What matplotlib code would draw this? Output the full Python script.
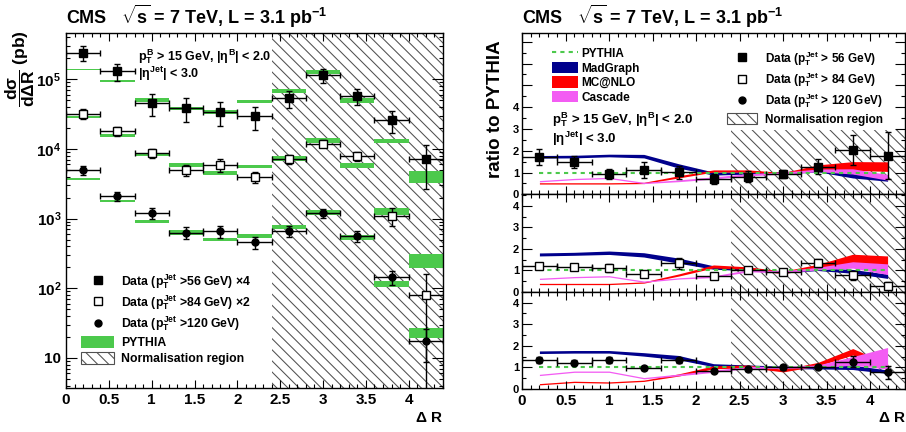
''' CMS b-jet angular correlation: dsigma/dDeltaR and ratio to PYTHIA '''
import matplotlib
matplotlib.use('Agg')
import matplotlib.pyplot as plt
from matplotlib.patches import Rectangle, Patch
from matplotlib.lines import Line2D
from matplotlib.ticker import MultipleLocator, FixedLocator, FixedFormatter, LogLocator, NullFormatter

plt.rcParams['font.family'] = ['Liberation Sans', 'DejaVu Sans']
plt.rcParams['font.weight'] = 'bold'
plt.rcParams['mathtext.fontset'] = 'custom'
plt.rcParams['mathtext.rm'] = 'Liberation Sans:bold'
plt.rcParams['mathtext.it'] = 'Liberation Sans:bold'
plt.rcParams['mathtext.bf'] = 'Liberation Sans:bold'
plt.rcParams['mathtext.sf'] = 'Liberation Sans:bold'
plt.rcParams['hatch.linewidth'] = 0.75

# bin centres in Delta R (bin width 0.4)
dr = [0.2, 0.6, 1.0, 1.4, 1.8, 2.2, 2.6, 3.0, 3.4, 3.8, 4.2]

# left panel: cross sections (pb), with scale factors already applied
data56 = [2.4e5, 1.3e5, 4.6e4, 3.9e4, 3.4e4, 2.95e4, 5.3e4, 1.14e5, 5.7e4, 2.6e4, 7.1e3]
err56 = [0.25, 0.27, 0.35, 0.38, 0.38, 0.36, 0.28, 0.22, 0.25, 0.35, 0.62]
data84 = [3.2e4, 1.78e4, 8.7e3, 5.0e3, 5.9e3, 3.9e3, 7.2e3, 1.19e4, 7.8e3, 1.1e3, 81]
err84 = [0.15, 0.15, 0.15, 0.18, 0.2, 0.18, 0.15, 0.12, 0.15, 0.3, 0.98]
data120 = [4.9e3, 2.1e3, 1.2e3, 630, 660, 460, 660, 1.2e3, 560, 145, 17.5]
err120 = [0.15, 0.15, 0.18, 0.2, 0.2, 0.2, 0.18, 0.15, 0.18, 0.22, 0.5]

pyth56 = [1.38e5, 9.4e4, 5.0e4, 3.8e4, 3.4e4, 4.8e4, 6.8e4, 1.27e5, 5.0e4, 1.3e4, 4.0e3]
pyth56_w = [0.03, 0.03, 0.06, 0.06, 0.06, 0.06, 0.08, 0.08, 0.08, 0.08, 0.2]
pyth84 = [2.9e4, 1.56e4, 8.3e3, 5.9e3, 4.5e3, 5.6e3, 7.2e3, 1.32e4, 5.8e3, 1.27e3, 250]
pyth84_w = [0.03, 0.04, 0.05, 0.06, 0.06, 0.06, 0.08, 0.08, 0.08, 0.12, 0.23]
pyth120 = [3.7e3, 1.8e3, 910, 640, 500, 560, 760, 1.23e3, 530, 117, 23]
pyth120_w = [0.03, 0.04, 0.04, 0.08, 0.06, 0.06, 0.08, 0.08, 0.08, 0.1, 0.15]

# right panels: ratio to PYTHIA, one list per jet pT threshold
ratio56 = [1.73, 1.47, 0.93, 1.12, 1.01, 0.69, 0.81, 0.93, 1.27, 2.04, 1.78]
rerr56 = [0.37, 0.27, 0.25, 0.36, 0.3, 0.23, 0.25, 0.19, 0.34, 0.7, 1.1]
ratio84 = [1.2, 1.14, 1.1, 0.84, 1.32, 0.72, 1.01, 0.9, 1.35, 0.76, 0.26]
rerr84 = [0.15, 0.12, 0.2, 0.12, 0.25, 0.1, 0.1, 0.08, 0.2, 0.2, 0.2]
ratio120 = [1.34, 1.22, 1.34, 0.96, 1.33, 0.83, 0.91, 1.0, 1.03, 1.27, 0.77]
rerr120 = [0.12, 0.1, 0.12, 0.1, 0.12, 0.05, 0.06, 0.1, 0.07, 0.25, 0.3]

pythia_ratio = [1.0, 1.0, 1.0, 1.0, 1.0, 1.0, 1.0, 1.0, 1.0, 1.0, 1.0]

mg56 = [1.72, 1.73, 1.78, 1.75, 1.30, 0.95, 0.98, 0.98, 1.10, 0.85, 0.68]
mg56_w = [0.06, 0.06, 0.06, 0.08, 0.10, 0.07, 0.05, 0.05, 0.07, 0.1, 0.08]
nlo56 = [0.50, 0.50, 0.50, 0.52, 0.80, 1.07, 1.07, 0.95, 1.25, 1.30, 1.27]
nlo56_w = [0.03, 0.03, 0.03, 0.03, 0.05, 0.05, 0.05, 0.05, 0.1, 0.2, 0.22]
cas56 = [0.60, 0.70, 0.75, 0.52, 0.62, 0.75, 0.90, 0.97, 1.10, 1.05, 0.78]
cas56_w = [0.03, 0.03, 0.03, 0.03, 0.04, 0.05, 0.05, 0.05, 0.06, 0.12, 0.13]

mg84 = [1.74, 1.77, 1.82, 1.72, 1.45, 1.13, 1.05, 0.92, 1.05, 0.95, 0.72]
mg84_w = [0.07, 0.07, 0.08, 0.1, 0.12, 0.08, 0.07, 0.05, 0.06, 0.09, 0.1]
nlo84 = [0.36, 0.36, 0.36, 0.43, 0.78, 1.18, 1.1, 0.9, 1.2, 1.5, 1.42]
nlo84_w = [0.03, 0.03, 0.03, 0.03, 0.05, 0.07, 0.06, 0.06, 0.08, 0.25, 0.25]
cas84 = [0.6, 0.68, 0.72, 0.47, 0.62, 0.7, 0.98, 0.93, 1.08, 1.25, 1.05]
cas84_w = [0.03, 0.03, 0.03, 0.03, 0.03, 0.04, 0.05, 0.05, 0.06, 0.15, 0.25]

mg120 = [1.7, 1.72, 1.72, 1.6, 1.45, 1.1, 1.05, 1.0, 0.98, 1.0, 0.8]
mg120_w = [0.06, 0.06, 0.06, 0.08, 0.1, 0.07, 0.06, 0.06, 0.05, 0.1, 0.08]
nlo120 = [0.22, 0.33, 0.3, 0.38, 0.65, 1.0, 1.05, 0.85, 1.15, 1.72, 1.03]
nlo120_w = [0.03, 0.03, 0.03, 0.03, 0.05, 0.07, 0.06, 0.06, 0.08, 0.15, 0.15]
cas120 = [0.65, 0.8, 0.8, 0.5, 0.65, 0.82, 1.0, 1.0, 1.05, 1.3, 1.42]
cas120_w = [0.03, 0.03, 0.03, 0.03, 0.04, 0.05, 0.05, 0.05, 0.06, 0.2, 0.5]

GREEN = '#4cc94c'
BLUE = '#00008c'
RED = '#ff0000'
MAGENTA = '#f35cf3'
HATCH_COL = '#505050'
HATCH = '\\\\\\'
TITLE = r'CMS   $\sqrt{s}$ = 7 TeV, L = 3.1 pb$^{-1}$'

W, H = 906, 432


def fig_box(x0, y0, x1, y1):
    ''' pixel box (top-left origin) -> figure fraction rect '''
    return [x0 / W, 1 - y1 / H, (x1 - x0) / W, (y1 - y0) / H]


def style_axis(ax, xlab=True, xsize=10.5):
    ax.set_xlim(0, 4.4)
    ax.xaxis.set_major_locator(MultipleLocator(0.5))
    ax.xaxis.set_minor_locator(MultipleLocator(0.1))
    ax.tick_params(which='both', direction='in', top=True, right=True, width=0.8)
    ax.tick_params(which='major', length=6)
    ax.tick_params(which='minor', length=3)
    if xlab:
        ax.set_xticks([0, 0.5, 1, 1.5, 2, 2.5, 3, 3.5, 4])
        ax.set_xticklabels(['0', '0.5', '1', '1.5', '2', '2.5', '3', '3.5', '4'],
                           fontsize=xsize, fontweight='bold')
    else:
        ax.set_xticklabels([])
    for s in ax.spines.values():
        s.set_linewidth(1.0)


def band(ax, c, w, color):
    lo = [v - e for v, e in zip(c, w)]
    hi = [v + e for v, e in zip(c, w)]
    ax.fill_between(dr, lo, hi, color=color, lw=0)


def main():
    fig = plt.figure(figsize=(W / 100, H / 100), dpi=100)

    # ---------------- left panel ----------------
    ax = fig.add_axes(fig_box(66, 33, 443, 388))
    ax.set_yscale('log')
    ax.set_ylim(3.7, 4.6e5)
    style_axis(ax, xsize=11)
    ax.add_patch(Rectangle((2.4, 3.7), 2.0, 4.6e5, fill=False, hatch=HATCH,
                           edgecolor=HATCH_COL, lw=0, zorder=0))
    for c, w in ((pyth56, pyth56_w), (pyth84, pyth84_w), (pyth120, pyth120_w)):
        lo = [v * (1 - e) for v, e in zip(c, w)]
        ht = [v * 2 * e for v, e in zip(c, w)]
        ax.bar(dr, ht, bottom=lo, width=0.4, color=GREEN, lw=0, zorder=2)
    for y, e, mk, mfc, ms in ((data56, err56, 's', 'k', 5.5),
                              (data84, err84, 's', 'white', 6.0),
                              (data120, err120, 'o', 'k', 5.0)):
        ye = [v * r for v, r in zip(y, e)]
        ax.errorbar(dr, y, xerr=0.2, yerr=[ye, ye], fmt=mk, ms=ms, mfc=mfc, mec='k',
                    ecolor='k', elinewidth=1, capsize=2.5, capthick=1, zorder=3)
    ax.yaxis.set_major_locator(FixedLocator([10, 100, 1e3, 1e4, 1e5]))
    ax.yaxis.set_major_formatter(FixedFormatter(
        ['10', r'$10^{2}$', r'$10^{3}$', r'$10^{4}$', r'$10^{5}$']))
    ax.yaxis.set_minor_locator(LogLocator(base=10, subs=range(2, 10)))
    ax.yaxis.set_minor_formatter(NullFormatter())
    ax.tick_params(axis='y', which='major', labelsize=11, length=8)
    for t in ax.get_yticklabels():
        t.set_fontweight('bold')

    fig.text(138 / W, 1 - 57 / H, r'$p_T^B$ > 15 GeV, $|\eta^B|$ < 2.0',
             fontsize=9, fontweight='bold', va='center')
    fig.text(138 / W, 1 - 74 / H, r'$|\eta^{Jet}|$ < 3.0',
             fontsize=9, fontweight='bold', va='center')

    handles = [Line2D([], [], marker='s', ls='none', color='k', ms=5.5),
               Line2D([], [], marker='s', ls='none', mfc='white', mec='k', ms=6),
               Line2D([], [], marker='o', ls='none', color='k', ms=5),
               Patch(facecolor=GREEN, lw=0),
               Patch(facecolor='white', edgecolor=HATCH_COL, hatch=HATCH, lw=0.8)]
    labels = [r'Data ($p_T^{Jet}$ >56 GeV) $\times$4', r'Data ($p_T^{Jet}$ >84 GeV) $\times$2',
              r'Data ($p_T^{Jet}$ >120 GeV)', 'PYTHIA', 'Normalisation region']
    ax.legend(handles, labels, loc='lower left', bbox_to_anchor=(0.04, 0.065),
              frameon=False, fontsize=8.8, handlelength=2.7, handleheight=1.2,
              handletextpad=0.6, labelspacing=0.2, borderpad=0, borderaxespad=0)

    fig.text(66 / W, 1 - 16 / H, TITLE, fontsize=13, fontweight='bold',
             va='center', ha='left')
    fig.text(20 / W, 1 - 69 / H, r'$\dfrac{d\sigma}{d\Delta R}$ (pb)', rotation=90,
             fontsize=12.5, fontweight='bold', va='center', ha='center')
    fig.text(443 / W, 1 - 418 / H, r'$\Delta$ R', fontsize=11, fontweight='bold',
             ha='right', va='center')

    # ---------------- right panels ----------------
    tops = [33, 194.3, 291.7]
    bots = [194.3, 291.7, 389]
    ymax = [7.4, 4.55, 4.5]
    panels = [(ratio56, rerr56, 's', 'k', 5.5, mg56, mg56_w, nlo56, nlo56_w, cas56, cas56_w),
              (ratio84, rerr84, 's', 'white', 6.0, mg84, mg84_w, nlo84, nlo84_w, cas84, cas84_w),
              (ratio120, rerr120, 'o', 'k', 5.0, mg120, mg120_w, nlo120, nlo120_w,
               cas120, cas120_w)]
    axes = []
    for i, p in enumerate(panels):
        (y, e, mk, mfc, ms, mg, mgw, nlo, nlow, cas, casw) = p
        rax = fig.add_axes(fig_box(522, tops[i], 905, bots[i]))
        axes.append(rax)
        rax.set_ylim(0, ymax[i])
        style_axis(rax, xlab=(i == 2), xsize=11)
        rax.yaxis.set_minor_locator(MultipleLocator(0.5))
        rax.set_yticks([0, 1, 2, 3, 4] if i else [0, 1, 2, 3, 4, 5, 6, 7])
        rax.set_yticklabels(['0', '1', '2', '3', '4'] + ([] if i else ['', '', '']),
                            fontsize=8, fontweight='bold')
        rax.tick_params(axis='y', which='major', length=7, pad=2)
        htop = 2.95 if i == 0 else ymax[i]
        rax.add_patch(Rectangle((2.4, 0), 2.0, htop, fill=False, hatch=HATCH,
                                edgecolor=HATCH_COL, lw=0, zorder=0))
        band(rax, mg, mgw, BLUE)
        band(rax, nlo, nlow, RED)
        band(rax, cas, casw, MAGENTA)
        rax.plot(dr, pythia_ratio, ls=(0, (2, 2)), color=GREEN, lw=1.5, zorder=2)
        rax.errorbar(dr, y, xerr=0.2, yerr=e, fmt=mk, ms=ms, mfc=mfc, mec='k',
                     ecolor='k', elinewidth=1, capsize=2.5, capthick=1, zorder=3)

    top = axes[0]
    h1 = [Line2D([], [], ls=(0, (2, 2)), color=GREEN, lw=1.5),
          Patch(facecolor=BLUE, lw=0), Patch(facecolor=RED, lw=0),
          Patch(facecolor=MAGENTA, lw=0)]
    leg1 = top.legend(h1, ['PYTHIA', 'MadGraph', 'MC@NLO', 'Cascade'], loc='upper left',
                      bbox_to_anchor=(0.078, 0.91), frameon=False, fontsize=8.5,
                      handlelength=2.2, handleheight=1.1, handletextpad=0.3,
                      labelspacing=0.15, borderpad=0, borderaxespad=0)
    top.add_artist(leg1)
    h2 = [Line2D([], [], marker='s', ls='none', color='k', ms=5.5),
          Line2D([], [], marker='s', ls='none', mfc='white', mec='k', ms=6),
          Line2D([], [], marker='o', ls='none', color='k', ms=5),
          Patch(facecolor='white', edgecolor=HATCH_COL, hatch=HATCH, lw=0.8)]
    top.legend(h2, [r'Data ($p_T^{Jet}$ > 56 GeV)', r'Data ($p_T^{Jet}$ > 84 GeV)',
                    r'Data ($p_T^{Jet}$ > 120 GeV)', 'Normalisation region'],
               loc='upper left', bbox_to_anchor=(0.534, 0.9), frameon=False, fontsize=8.5,
               handlelength=2.6, handleheight=1.1, handletextpad=0.7, labelspacing=0.22,
               borderpad=0, borderaxespad=0)
    fig.text(552 / W, 1 - 120 / H, r'$p_T^B$ > 15 GeV, $|\eta^B|$ < 2.0',
             fontsize=9.5, fontweight='bold', va='center')
    fig.text(552 / W, 1 - 139 / H, r'$|\eta^{Jet}|$ < 3.0',
             fontsize=9.5, fontweight='bold', va='center')

    fig.text(522 / W, 1 - 16 / H, TITLE, fontsize=13, fontweight='bold',
             va='center', ha='left')
    fig.text(495 / W, 1 - 109 / H, 'ratio to PYTHIA', rotation=90,
             fontsize=13.5, fontweight='bold', va='center', ha='center')
    fig.text(906 / W, 1 - 418 / H, r'$\Delta$ R', fontsize=11, fontweight='bold',
             ha='right', va='center')

    fig.savefig('out.png', dpi=100)


if __name__ == "__main__":
    main()
